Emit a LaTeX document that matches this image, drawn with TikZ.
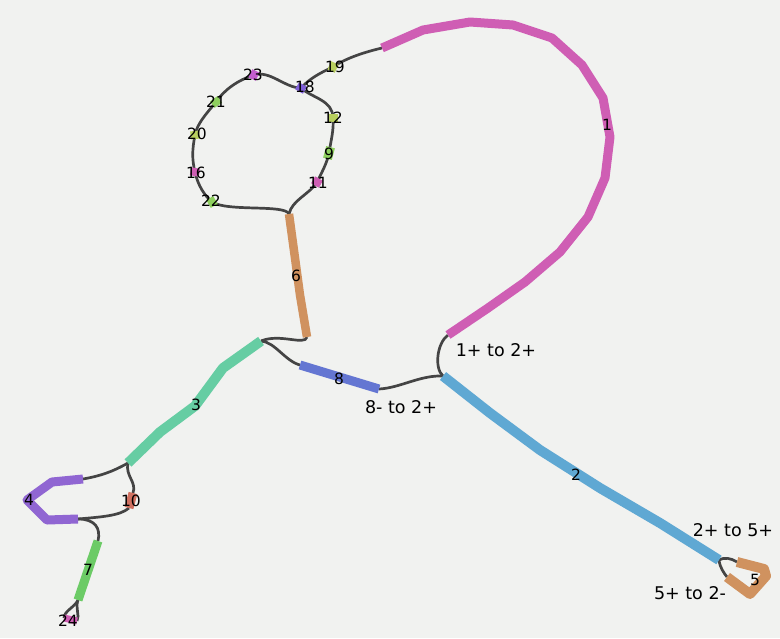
\documentclass[tikz,border=0pt]{standalone}
\usepackage{fontspec}
\setmainfont{DejaVu Sans}
\definecolor{bg}{HTML}{F1F2F0}
\definecolor{conncol}{HTML}{444444}
\definecolor{cmag}{HTML}{CF5EB4}
\definecolor{cblue}{HTML}{5FA8D3}
\definecolor{cteal}{HTML}{66CDA3}
\definecolor{cpurp}{HTML}{9066D2}
\definecolor{ctan}{HTML}{D0925F}
\definecolor{cgreen}{HTML}{6CCB66}
\definecolor{cviol}{HTML}{6476D2}
\definecolor{cred}{HTML}{D07060}
\definecolor{cyg}{HTML}{B8CF5E}
\definecolor{clg}{HTML}{8ED05E}
\definecolor{cpv}{HTML}{7F5FD8}
\definecolor{cpm}{HTML}{C45ED0}
\tikzset{
  seg/.style={line width=9pt, line cap=butt, line join=round},
  conn/.style={line width=2.7pt, draw=conncol},
  smallseg/.style={rectangle, inner sep=0pt, minimum width=8pt, minimum height=9pt},
  lab/.style={font=\fontsize{15.5}{15.5}\selectfont, inner sep=0pt, text=black},
  elab/.style={font=\fontsize{17.5}{17.5}\selectfont, inner sep=0pt, text=black}
}
\begin{document}
\begin{tikzpicture}[x=1pt,y=-1pt]
\fill[bg] (0,0) rectangle (780,638);
\useasboundingbox (0,0) rectangle (780,638);
% end coordinates of long nodes
\coordinate (n1s) at (382,48);  \coordinate (n1e) at (448,335);
\coordinate (n2s) at (443,376); \coordinate (n2e) at (719,560);
\coordinate (n3s) at (128,463); \coordinate (n3e) at (261,341);
\coordinate (n4s) at (83,479);  \coordinate (n4e) at (78,519);
\coordinate (n5s) at (737,562); \coordinate (n5e) at (727,577);
\coordinate (n6s) at (289,214); \coordinate (n6e) at (307,337);
\coordinate (n7s) at (98,541);  \coordinate (n7e) at (78,600);
\coordinate (n8s) at (300,365); \coordinate (n8e) at (379,389);
\coordinate (n10s) at (133,493); \coordinate (n10e) at (129,508);
\coordinate (n24s) at (64,618); \coordinate (n24e) at (77,621);
% small node centres
\coordinate (c19) at (333,67);
\coordinate (c18) at (301,88);
\coordinate (c12) at (333,118);
\coordinate (c9) at (329,153);
\coordinate (c11) at (317,182);
\coordinate (c22) at (212,202);
\coordinate (c16) at (195,172);
\coordinate (c20) at (195,135);
\coordinate (c21) at (216,102);
\coordinate (c23) at (254,75);
% connectors
\draw[conn] (n3s) .. controls (112,472) and (100,476) .. (n4s);
\draw[conn] (n3s) .. controls (125,476) and (137,482) .. (n10s);
\draw[conn] (n10e) .. controls (120,516) and (100,517) .. (n4e);
\draw[conn] (n4e) .. controls (95,519) and (101,528) .. (n7s);
\draw[conn] (n7e) .. controls (75,607) and (64,611) .. (n24s);
\draw[conn] (n7e) .. controls (75,608) and (80,615) .. (n24e);
\draw[conn] (n3e) .. controls (280,333) and (305,346) .. (n6e);
\draw[conn] (n3e) .. controls (275,342) and (285,361) .. (n8s);
\draw[conn] (n8e) .. controls (400,388) and (420,375) .. (n2s);
\draw[conn] (n1e) .. controls (437,343) and (434,368) .. (n2s);
\draw[conn] (n2e) .. controls (724,557) and (731,558) .. (n5s);
\draw[conn] (n2e) .. controls (720,568) and (724,573) .. (n5e);
\draw[conn] (n6s) .. controls (292,200) and (310,194) .. (c11);
\draw[conn] (c11) .. controls (322,172) and (327,163) .. (c9);
\draw[conn] (c9) .. controls (331,140) and (334,130) .. (c12);
\draw[conn] (c12) .. controls (333,100) and (312,98) .. (c18);
\draw[conn] (c18) .. controls (310,78) and (322,72) .. (c19);
\draw[conn] (c19) .. controls (346,58) and (365,52) .. (n1s);
\draw[conn] (c23) .. controls (270,70) and (285,88) .. (c18);
\draw[conn] (c23) .. controls (238,80) and (224,90) .. (c21);
\draw[conn] (c21) .. controls (206,114) and (197,124) .. (c20);
\draw[conn] (c20) .. controls (192,150) and (192,160) .. (c16);
\draw[conn] (c16) .. controls (198,186) and (205,196) .. (c22);
\draw[conn] (c22) .. controls (228,212) and (285,204) .. (n6s);
% long node segments
\draw[seg, cmag] (n1s) -- (423,30) -- (470,22) -- (513,25) -- (552,38) -- (582,65) -- (603,98) -- (610,137) -- (605,178) -- (588,217) -- (560,252) -- (525,282) -- (488,308) -- (n1e);
\draw[seg, cblue, line width=10pt] (n2s) -- (490,413) -- (540,450) -- (600,488) -- (660,523) -- (n2e);
\draw[seg, cteal, line width=10pt] (n3s) -- (160,432) -- (195,406) -- (223,368) -- (n3e);
\draw[seg, cpurp] (n4s) -- (52,482) -- (27,500) -- (47,520) -- (n4e);
\draw[seg, ctan, line width=10pt] (n5s) -- (764,569) -- (766,576) -- (750,594) -- (n5e);
\draw[seg, ctan, line width=8.5pt] (n6s) -- (295,258) -- (300,295) -- (n6e);
\draw[seg, cgreen] (n7s) -- (n7e);
\draw[seg, cviol] (n8s) -- (n8e);
\draw[seg, cred] (n10s) -- (n10e);
\draw[seg, cmag, line width=7pt] (n24s) -- (n24e);
% small nodes
\node[smallseg, fill=cyg, rotate=-25] (n19) at (c19) {};
\node[smallseg, fill=cpv, rotate=60] (n18) at (c18) {};
\node[smallseg, fill=cyg, rotate=90] (n12) at (c12) {};
\node[smallseg, fill=clg, rotate=75, minimum width=12pt] (n9) at (c9) {};
\node[smallseg, fill=cmag, rotate=60] (n11) at (c11) {};
\node[smallseg, fill=clg, rotate=30] (n22) at (c22) {};
\node[smallseg, fill=cmag, rotate=80] (n16) at (c16) {};
\node[smallseg, fill=cyg, rotate=95] (n20) at (c20) {};
\node[smallseg, fill=clg, rotate=-55] (n21) at (c21) {};
\node[smallseg, fill=cpm, rotate=-25] (n23) at (c23) {};
% labels
\node[lab] (l1) at (607,125) {1};
\node[lab] (l2) at (576,475) {2};
\node[lab] (l3) at (196,405) {3};
\node[lab] (l4) at (29,500) {4};
\node[lab] (l5) at (755,580) {5};
\node[lab] (l6) at (296,276) {6};
\node[lab] (l7) at (88,570) {7};
\node[lab] (l8) at (339,379) {8};
\node[lab] (l9) at (329,154) {9};
\node[lab] (l10) at (131,501) {10};
\node[lab] (l11) at (318,183) {11};
\node[lab] (l12) at (333,118) {12};
\node[lab] (l16) at (196,173) {16};
\node[lab] (l18) at (305,87) {18};
\node[lab] (l19) at (335,67) {19};
\node[lab] (l20) at (197,134) {20};
\node[lab] (l21) at (216,102) {21};
\node[lab] (l22) at (211,201) {22};
\node[lab] (l23) at (253,75) {23};
\node[lab] (l24) at (68,621) {24};
\node[elab] (e12) at (496,350) {1+ to 2+};
\node[elab] (e82) at (401,407) {8- to 2+};
\node[elab] (e25) at (733,530) {2+ to 5+};
\node[elab] (e52) at (690,593) {5+ to 2-};
\end{tikzpicture}
\end{document}
